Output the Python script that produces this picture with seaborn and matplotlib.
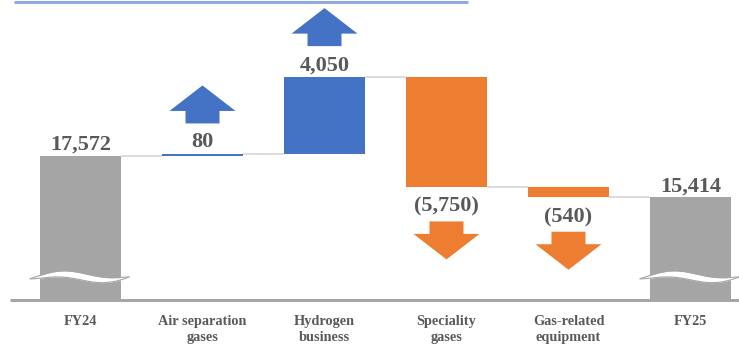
import numpy as np
import pandas as pd
import matplotlib
matplotlib.use("Agg")
import matplotlib.pyplot as plt
from matplotlib.lines import Line2D
from matplotlib.patches import Polygon
import seaborn as sns

# Waterfall data: first and last entries are totals, the rest are changes
categories = ["FY24", "Air separation\ngases", "Hydrogen\nbusiness",
              "Speciality\ngases", "Gas-related\nequipment", "FY25"]
changes = [17572, 80, 4050, -5750, -540, 15414]
value_labels = ["17,572", "80", "4,050", "(5,750)", "(540)", "15,414"]
kinds = ["total", "increase", "increase", "decrease", "decrease", "total"]

palette = {"total": "#A5A5A5", "increase": "#4472C4", "decrease": "#ED7D31"}
TEXT = "#595959"
SERIF = ["Liberation Serif", "DejaVu Serif"]

sns.set_style("white")

W, H, DPI = 739, 351, 100
fig = plt.figure(figsize=(W / DPI, H / DPI), dpi=DPI)
AX_H = 300  # axes height in px, measured from the top of the figure
ax = fig.add_axes([0, (H - AX_H) / H, 1, AX_H / H])

bar_w = 81 / 122
xlim = (-80.5 / 122, (W - 80.5) / 122)
ylim = (10030, 25740)

# running totals -> bar bottoms / tops
bottoms, tops, levels = [], [], []
running = 0
for v, k in zip(changes, kinds):
    if k == "total":
        bottoms.append(ylim[0])
        tops.append(v)
        running = v
    else:
        start, end = running, running + v
        bottoms.append(min(start, end))
        tops.append(max(start, end))
        running = end
    levels.append(running)

df = pd.DataFrame({"cat": categories, "top": tops, "kind": kinds})
sns.barplot(data=df, x="cat", y="top", hue="kind", palette=palette,
            dodge=False, width=bar_w, saturation=1, legend=False, ax=ax,
            zorder=2)
for p in ax.patches:
    i = int(round(p.get_x() + p.get_width() / 2))
    p.set_y(bottoms[i])
    p.set_height(tops[i] - bottoms[i])
    p.set_edgecolor("none")

ax.set_xlim(*xlim)
ax.set_ylim(*ylim)

# pixel -> data scale factors
px_x = (xlim[1] - xlim[0]) / W
px_y = (ylim[1] - ylim[0]) / AX_H

# connector lines between consecutive bars
for i in range(len(categories) - 1):
    ax.plot([i + bar_w / 2, i + 1 - bar_w / 2], [levels[i], levels[i]],
            color="#D9D9D9", lw=1.3, zorder=1, solid_capstyle="butt")

# block arrows showing direction of change
def block_arrow(cx, y0, up, color):
    s = 1 if up else -1
    pts = [(-17, 0), (17, 0), (17, 12.5), (33, 12.5), (0, 38),
           (-33, 12.5), (-17, 12.5)]
    xy = [(cx + dx * px_x, y0 + s * dy * px_y) for dx, dy in pts]
    ax.add_patch(Polygon(xy, closed=True, facecolor=color,
                         edgecolor="none", zorder=3))

label_kw = dict(textcoords="offset points", ha="center", va="baseline",
                fontsize=16, fontweight="bold", family=SERIF, color=TEXT)
pt = 72 / DPI
for i, (lab, k) in enumerate(zip(value_labels, kinds)):
    if k == "total":
        ax.annotate(lab, xy=(i, tops[i]), xytext=(0, 6 * pt), **label_kw)
    elif k == "increase":
        ax.annotate(lab, xy=(i, tops[i]), xytext=(0, 7 * pt), **label_kw)
        block_arrow(i, tops[i] + 31 * px_y, True, palette["increase"])
    else:
        ax.annotate(lab, xy=(i, bottoms[i]), xytext=(0, -25 * pt), **label_kw)
        block_arrow(i, bottoms[i] - 34.5 * px_y, False, palette["decrease"])

# axis-break squiggles on the total bars
t = np.linspace(0, 1, 120)
for i, k in enumerate(kinds):
    if k != "total":
        continue
    x0 = i - bar_w / 2 - 10 * px_x
    x1 = i + bar_w / 2 + 8 * px_x
    xs = x0 + (x1 - x0) * t
    yc = ylim[0] + (23 + 3 * np.sin(2 * np.pi * (1.1 * t - 0.1))) * px_y
    hh = 3.5 * np.sin(np.pi * t) ** 0.8 * px_y
    ax.fill_between(xs, yc - hh, yc + hh, color="white", lw=0, zorder=4)
    ax.plot(xs, yc + hh, color="#A6A6A6", lw=0.8, zorder=5)
    ax.plot(xs, yc - hh, color="#A6A6A6", lw=0.8, zorder=5)

# baseline
ax.plot([xlim[0] + 10 * px_x, xlim[1]], [ylim[0], ylim[0]], color="#A6A6A6",
        lw=3 * pt, clip_on=False, zorder=6, solid_capstyle="butt")

ax.set_xticks(range(len(categories)))
ax.set_xticklabels(categories, fontsize=10.3, fontweight="bold", family=SERIF,
                   color=TEXT, linespacing=1.3)
ax.tick_params(axis="x", length=0, pad=10.5)
ax.set_yticks([])
ax.set_xlabel("")
ax.set_ylabel("")
for s in ax.spines.values():
    s.set_visible(False)

# accent rule along the top edge
fig.add_artist(Line2D([14 / W, 468 / W], [1 - 1.5 / H] * 2,
                      transform=fig.transFigure, color="#8FAADC", lw=3 * pt,
                      solid_capstyle="butt"))

fig.savefig("out.png", dpi=DPI)
